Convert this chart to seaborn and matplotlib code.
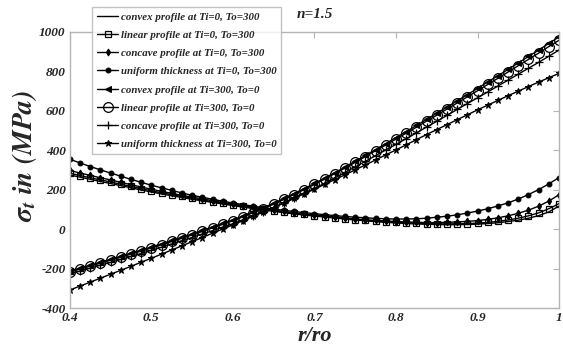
import numpy as np
import pandas as pd
import matplotlib
matplotlib.use("Agg")
import matplotlib.pyplot as plt
import seaborn as sns

# r/ro grid (one point per marker)
r_ro = [0.4, 0.4125, 0.425, 0.4375, 0.45, 0.4625, 0.475, 0.4875,
        0.5, 0.5125, 0.525, 0.5375, 0.55, 0.5625, 0.575, 0.5875,
        0.6, 0.6125, 0.625, 0.6375, 0.65, 0.6625, 0.675, 0.6875,
        0.7, 0.7125, 0.725, 0.7375, 0.75, 0.7625, 0.775, 0.7875,
        0.8, 0.8125, 0.825, 0.8375, 0.85, 0.8625, 0.875, 0.8875,
        0.9, 0.9125, 0.925, 0.9375, 0.95, 0.9625, 0.975, 0.9875, 1.0]

# Ti=0, To=300
convex_a = [275, 264, 253, 242, 232, 221, 210, 199, 189, 179, 170, 161,
            152, 144, 136, 128, 120, 112, 105, 98, 91, 84, 78, 72,
            67, 62, 57, 52, 47, 43, 39, 35, 32, 29, 27, 25,
            24, 23, 23, 24, 26, 29, 33, 39, 46, 56, 69, 88, 118]
linear_a = [284, 272, 261, 250, 240, 228, 217, 206, 195, 185, 175, 166,
            157, 148, 140, 132, 124, 116, 108, 101, 94, 87, 81, 75,
            69, 64, 59, 54, 49, 45, 41, 38, 35, 33, 31, 29,
            28, 27, 28, 29, 31, 35, 40, 47, 56, 68, 83, 104, 130]
concave_a = [298, 285, 273, 261, 250, 238, 226, 214, 203, 192, 182, 172,
             163, 154, 145, 136, 128, 120, 112, 104, 97, 90, 84, 78,
             72, 67, 62, 57, 52, 48, 45, 42, 39, 37, 35, 34,
             34, 35, 37, 40, 44, 50, 58, 68, 81, 97, 117, 143, 175]
uniform_a = [355, 336, 318, 301, 285, 269, 253, 238, 223, 210, 197, 184,
             172, 162, 152, 142, 133, 125, 117, 109, 102, 96, 90, 84,
             79, 74, 69, 65, 61, 58, 55, 53, 52, 52, 53, 56,
             61, 66, 73, 82, 92, 104, 118, 134, 153, 176, 201, 230, 262]

# Ti=300, To=0
convex_b = [-212, -197, -182, -167, -152, -137, -121, -106, -90, -74, -57, -41,
            -24, -6, 12, 30, 48, 68, 89, 110, 132, 156, 181, 206,
            232, 259, 287, 315, 345, 374, 404, 434, 465, 495, 526, 557,
            588, 619, 651, 682, 714, 747, 778, 810, 843, 876, 908, 942, 975]
linear_b = [-217, -202, -187, -172, -157, -142, -126, -111, -95, -79, -62, -46,
            -29, -11, 7, 25, 43, 63, 84, 105, 127, 151, 176, 201,
            227, 254, 282, 310, 339, 368, 398, 427, 457, 487, 517, 548,
            578, 609, 640, 671, 702, 734, 765, 797, 829, 861, 893, 926, 958]
concave_b = [-227, -212, -197, -182, -168, -153, -138, -123, -107, -91, -74, -58,
             -42, -24, -7, 11, 28, 48, 68, 89, 110, 134, 158, 183,
             207, 233, 261, 288, 316, 344, 373, 402, 430, 459, 488, 518,
             547, 577, 607, 637, 666, 696, 726, 756, 786, 816, 846, 877, 908]
uniform_b = [-308, -288, -268, -248, -228, -208, -188, -167, -147, -126, -105, -84,
             -63, -42, -20, 1, 22, 44, 66, 88, 110, 133, 156, 180,
             203, 227, 252, 276, 301, 326, 351, 377, 402, 428, 454, 480,
             505, 530, 555, 580, 605, 629, 653, 677, 700, 723, 746, 768, 790]

labels = [
    "convex profile at Ti=0, To=300",
    "linear profile at Ti=0, To=300",
    "concave profile at Ti=0, To=300",
    "uniform thickness at Ti=0, To=300",
    "convex profile at Ti=300, To=0",
    "linear profile at Ti=300, To=0",
    "concave profile at Ti=300, To=0",
    "uniform thickness at Ti=300, To=0",
]
series = [convex_a, linear_a, concave_a, uniform_a,
          convex_b, linear_b, concave_b, uniform_b]

# marker style per series
styles = [
    dict(marker=None),
    dict(marker="s", ms=4, mfc="none", mew=0.9),
    dict(marker="d", ms=3.5, mfc="black"),
    dict(marker="o", ms=3.5, mfc="black"),
    dict(marker="<", ms=4, mfc="black"),
    dict(marker="o", ms=7, mfc="none", mew=0.9),
    dict(marker="+", ms=6, mew=0.9),
    dict(marker="*", ms=5, mfc="black"),
]

sns.set_style("white")
plt.rcParams["font.family"] = ["Liberation Serif", "DejaVu Serif"]
plt.rcParams["mathtext.fontset"] = "stix"
plt.rcParams["axes.unicode_minus"] = False

fig, ax = plt.subplots(figsize=(5.63, 3.51), dpi=100)
fig.subplots_adjust(left=0.124, right=0.993, bottom=0.122, top=0.909)

for lab, vals, st in zip(labels, series, styles):
    df = pd.DataFrame({"r": r_ro, "s": vals})
    sns.lineplot(data=df, x="r", y="s", ax=ax, color="black", lw=1.0,
                 label=lab, markeredgecolor="black", **st)

ax.set_xlim(0.4, 1.0)
ax.set_ylim(-400, 1000)
ax.set_xticks([0.4, 0.5, 0.6, 0.7, 0.8, 0.9, 1.0])
ax.set_xticklabels(["0.4", "0.5", "0.6", "0.7", "0.8", "0.9", "1"])
ax.set_yticks([-400, -200, 0, 200, 400, 600, 800, 1000])

for sp in ax.spines.values():
    sp.set_color("#b5b5b5")
    sp.set_linewidth(1.0)
ax.tick_params(direction="in", length=4, color="#b5b5b5", top=True, right=True,
               labelsize=9.5, pad=3)
for t in ax.get_xticklabels() + ax.get_yticklabels():
    t.set_fontweight("bold")
    t.set_fontstyle("italic")

ax.set_xlabel("r/ro", fontsize=16, fontweight="bold", fontstyle="italic", labelpad=1)
ax.set_ylabel(r"$\mathbfit{\sigma_t}$ $\mathbfit{in}$ $\mathbfit{(MPa)}$",
              fontsize=20, labelpad=2)
ax.yaxis.set_label_coords(-0.062, 0.55)
ax.set_title("n=1.5", fontsize=11, fontweight="bold", fontstyle="italic", pad=10)

leg = ax.legend(loc="upper left", bbox_to_anchor=(0.045, 1.09),
                prop=dict(weight="bold", style="italic", size=7.8),
                frameon=True, fancybox=False, handlelength=2.0,
                handletextpad=0.2, labelspacing=0.8, borderpad=0.45,
                borderaxespad=0.0)
leg.get_frame().set_edgecolor("#b5b5b5")
leg.get_frame().set_linewidth(1.0)

fig.savefig("out.png", dpi=100)
